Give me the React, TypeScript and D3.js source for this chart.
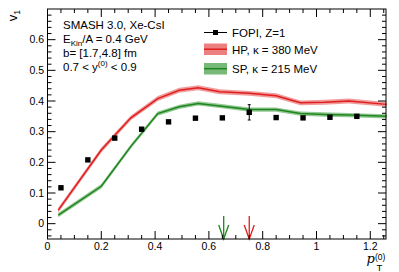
import * as d3 from "d3";
import React from "react";

const W = 399,
  H = 272;
const frame = { left: 47.5, right: 386, top: 9, bottom: 239 };

// FOPI data, Z=1
const fopiPt = [0.05, 0.15, 0.25, 0.35, 0.45, 0.55, 0.65, 0.75, 0.85, 0.95, 1.05, 1.15];
const fopiV = [0.117, 0.208, 0.279, 0.308, 0.332, 0.344, 0.345, 0.363, 0.346, 0.345, 0.347, 0.35];
const fopiErr = [0.004, 0.004, 0.004, 0.004, 0.004, 0.004, 0.004, 0.025, 0.004, 0.004, 0.004, 0.004];

// SMASH curves
const simPt = [0.04, 0.2, 0.31, 0.41, 0.49, 0.56, 0.64, 0.75, 0.85, 0.94, 1.03, 1.12, 1.26];
const hpV = [0.044, 0.24, 0.345, 0.408, 0.435, 0.443, 0.43, 0.425, 0.417, 0.394, 0.396, 0.4, 0.389];
const spV = [0.028, 0.122, 0.252, 0.359, 0.381, 0.392, 0.384, 0.372, 0.372, 0.359, 0.356, 0.354, 0.35];
const hpErr = 0.008;
const spErr = 0.007;

const xTickLabels = [0, 0.2, 0.4, 0.6, 0.8, 1, 1.2];
const yTickLabels = [0, 0.1, 0.2, 0.3, 0.4, 0.5, 0.6];
const arrowSp = 0.655;
const arrowHp = 0.75;

const RED = "#e01e1e";
const RED_BAND = "#e44a4a";
const GREEN = "#1e861e";
const GREEN_BAND = "#3e9a3e";
const FONT = "'Liberation Sans', Arial, sans-serif";

export default function App() {
  const x = d3.scaleLinear().domain([0, 1.2584]).range([frame.left, frame.right]);
  const y = d3.scaleLinear().domain([-0.05, 0.7]).range([frame.bottom, frame.top]);

  const line = d3
    .line<number>()
    .x((d, i) => x(simPt[i]))
    .y((d) => y(d));
  const band = (err: number) =>
    d3
      .area<number>()
      .x((d, i) => x(simPt[i]))
      .y0((d) => y(d - err))
      .y1((d) => y(d + err));

  const xMinor = d3.range(0, 1.26, 0.05);
  const yMinor = d3.range(-0.04, 0.7, 0.02);

  const arrow = (v: number, col: string) => {
    const ax = x(v);
    const top = frame.bottom - 23;
    return (
      <g stroke={col} strokeWidth={1.3} fill="none">
        <line x1={ax} x2={ax} y1={top} y2={frame.bottom} />
        <polyline points={`${ax - 5},${frame.bottom - 14} ${ax},${frame.bottom} ${ax + 5},${frame.bottom - 14}`} />
      </g>
    );
  };

  return (
    <svg width={W} height={H} style={{ position: "absolute", left: 0, top: 0, background: "#fff" }} fontFamily={FONT}>
      {/* bands and lines */}
      <path d={band(hpErr)(hpV) ?? ""} fill={RED_BAND} opacity={0.55} />
      <path d={line(hpV) ?? ""} fill="none" stroke={RED} strokeWidth={1.5} />
      <path d={band(spErr)(spV) ?? ""} fill={GREEN_BAND} opacity={0.55} />
      <path d={line(spV) ?? ""} fill="none" stroke={GREEN} strokeWidth={1.5} />

      {/* FOPI points */}
      {fopiPt.map((p, i) => (
        <g key={i}>
          {fopiErr[i] > 0.01 && (
            <g stroke="#000" strokeWidth={1}>
              <line x1={x(p)} x2={x(p)} y1={y(fopiV[i] - fopiErr[i])} y2={y(fopiV[i] + fopiErr[i])} />
              <line x1={x(p) - 1.5} x2={x(p) + 1.5} y1={y(fopiV[i] - fopiErr[i])} y2={y(fopiV[i] - fopiErr[i])} />
              <line x1={x(p) - 1.5} x2={x(p) + 1.5} y1={y(fopiV[i] + fopiErr[i])} y2={y(fopiV[i] + fopiErr[i])} />
            </g>
          )}
          <rect x={x(p) - 2.7} y={y(fopiV[i]) - 2.7} width={5.4} height={5.4} fill="#000" />
        </g>
      ))}

      {/* arrows */}
      {arrow(arrowSp, GREEN)}
      {arrow(arrowHp, RED)}

      {/* frame */}
      <rect
        x={frame.left}
        y={frame.top}
        width={frame.right - frame.left}
        height={frame.bottom - frame.top}
        fill="none"
        stroke="#000"
        strokeWidth={1}
      />
      <g stroke="#000" strokeWidth={1}>
        {xMinor.map((t, i) => {
          const major = Math.abs(t / 0.2 - Math.round(t / 0.2)) < 1e-6;
          const len = major ? 8 : 4;
          return (
            <g key={i}>
              <line x1={x(t)} x2={x(t)} y1={frame.bottom} y2={frame.bottom - len} />
              <line x1={x(t)} x2={x(t)} y1={frame.top} y2={frame.top + len} />
            </g>
          );
        })}
        {yMinor.map((t, i) => {
          const major = Math.abs(t / 0.1 - Math.round(t / 0.1)) < 1e-6;
          const len = major ? 8 : 4;
          return (
            <g key={i}>
              <line x1={frame.left} x2={frame.left + len} y1={y(t)} y2={y(t)} />
              <line x1={frame.right} x2={frame.right - len} y1={y(t)} y2={y(t)} />
            </g>
          );
        })}
      </g>

      {/* tick labels */}
      <g fontSize={10.5} fill="#000">
        {xTickLabels.map((t) => (
          <text key={t} x={x(t)} y={250} textAnchor="middle">
            {String(t)}
          </text>
        ))}
        {yTickLabels.map((t) => (
          <text key={t} x={44} y={y(t) + 3.8} textAnchor="end">
            {String(t)}
          </text>
        ))}
      </g>

      {/* axis titles */}
      <text transform="translate(17,10) rotate(-90)" textAnchor="end" fontSize={13}>
        v<tspan fontSize={8.5} dy={3}>1</tspan>
      </text>
      <text x={366.5} y={262.5} fontSize={13} fontStyle="italic" fontFamily="'DejaVu Serif', serif">
        p
      </text>
      <text x={375} y={259.5} fontSize={8.5}>
        (0)
      </text>
      <text x={376.5} y={270.5} fontSize={9.5}>
        T
      </text>

      {/* info text */}
      <g fontSize={11.5} fill="#000">
        <text x={63} y={29}>SMASH 3.0, Xe-CsI</text>
        <text x={63} y={43}>
          E<tspan fontSize={8} dy={2.5}>Kin</tspan>
          <tspan dy={-2.5}>/A = 0.4 GeV</tspan>
        </text>
        <text x={63} y={57}>b= [1.7,4.8] fm</text>
        <text x={63} y={71}>
          0.7 &lt; y<tspan fontSize={8} dy={-5}>(0)</tspan>
          <tspan dy={5}> &lt; 0.9</tspan>
        </text>
      </g>

      {/* legend */}
      <g fontSize={11.5}>
        <line x1={204} x2={227} y1={32.5} y2={32.5} stroke="#000" strokeWidth={1} />
        <rect x={213} y={30} width={5} height={5} fill="#000" />
        <text x={232} y={36.5}>FOPI, Z=1</text>

        <rect x={204} y={43.5} width={23} height={11.5} fill={RED_BAND} opacity={0.7} />
        <line x1={204} x2={227} y1={49.2} y2={49.2} stroke={RED} strokeWidth={1.5} />
        <text x={232} y={54}>HP, κ = 380 MeV</text>

        <rect x={204} y={63} width={23} height={11.5} fill={GREEN_BAND} opacity={0.7} />
        <line x1={204} x2={227} y1={68.7} y2={68.7} stroke={GREEN} strokeWidth={1.5} />
        <text x={232} y={73}>SP, κ = 215 MeV</text>
      </g>
    </svg>
  );
}
